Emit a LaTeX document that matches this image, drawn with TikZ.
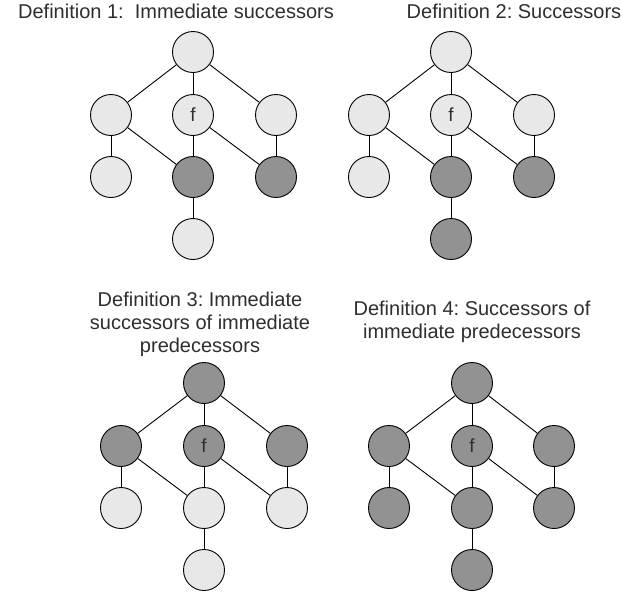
\documentclass[tikz,border=0pt]{standalone}
\usepackage{fontspec}
\setmainfont{Liberation Sans}
\frenchspacing
\definecolor{lightn}{HTML}{E8E8E8}
\definecolor{darkn}{HTML}{929292}
\definecolor{txt}{HTML}{2E2E2E}
\begin{document}
\begin{tikzpicture}[x=1pt,y=-1pt,
  nd/.style={circle,draw=black,line width=0.9pt,minimum size=41pt,inner sep=0pt,font=\fontsize{19}{22}\selectfont,text=txt},
  lt/.style={nd,fill=lightn},
  dk/.style={nd,fill=darkn},
  edge/.style={line width=0.9pt,draw=black},
  ttl/.style={font=\fontsize{20}{23}\selectfont,text=txt,align=center,inner sep=0pt,anchor=base}]
\useasboundingbox (0,0) rectangle (622,595);
% titles
\node[ttl] (t1) at (176,18) {Definition 1:\ \ Immediate successors};
\node[ttl] (t2) at (514,18) {Definition 2: Successors};
\node[ttl] (t3) at (200,352) {Definition 3: Immediate\\successors of immediate\\predecessors};
\node[ttl] (t4) at (472,338) {Definition 4: Successors of\\immediate predecessors};
% graph 1
\node[lt] (a1) at (193,52) {};
\node[lt] (a2) at (111,115) {};
\node[lt] (a3) at (193,115) {f};
\node[lt] (a4) at (276,115) {};
\node[lt] (a5) at (111,177) {};
\node[dk] (a6) at (193,177) {};
\node[dk] (a7) at (276,177) {};
\node[lt] (a8) at (193,239) {};
% graph 2
\node[lt] (b1) at (451,52) {};
\node[lt] (b2) at (369,115) {};
\node[lt] (b3) at (451,115) {f};
\node[lt] (b4) at (534,115) {};
\node[lt] (b5) at (369,177) {};
\node[dk] (b6) at (451,177) {};
\node[dk] (b7) at (534,177) {};
\node[dk] (b8) at (451,239) {};
% graph 3
\node[dk] (c1) at (204,383) {};
\node[dk] (c2) at (121,446) {};
\node[dk] (c3) at (204,446) {f};
\node[dk] (c4) at (287,446) {};
\node[lt] (c5) at (121,508) {};
\node[lt] (c6) at (204,508) {};
\node[lt] (c7) at (287,508) {};
\node[lt] (c8) at (204,570) {};
% graph 4
\node[dk] (d1) at (472,383) {};
\node[dk] (d2) at (389,446) {};
\node[dk] (d3) at (472,446) {f};
\node[dk] (d4) at (554,446) {};
\node[dk] (d5) at (389,508) {};
\node[dk] (d6) at (472,508) {};
\node[dk] (d7) at (554,508) {};
\node[dk] (d8) at (472,570) {};
\foreach \g in {a,b,c,d}{
  \draw[edge] (\g1) -- (\g2);
  \draw[edge] (\g1) -- (\g3);
  \draw[edge] (\g1) -- (\g4);
  \draw[edge] (\g2) -- (\g5);
  \draw[edge] (\g2) -- (\g6);
  \draw[edge] (\g3) -- (\g6);
  \draw[edge] (\g3) -- (\g7);
  \draw[edge] (\g4) -- (\g7);
  \draw[edge] (\g6) -- (\g8);
}
\end{tikzpicture}
\end{document}
